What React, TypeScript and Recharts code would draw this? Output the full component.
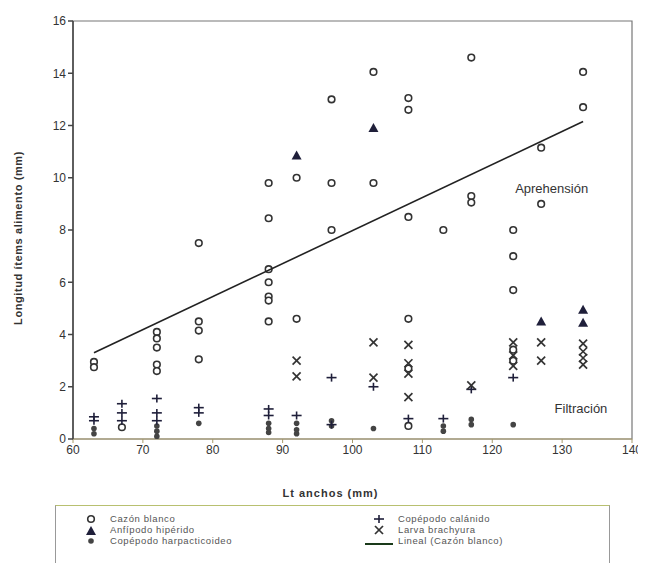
import React from 'react'
import {
  ScatterChart,
  Scatter,
  XAxis,
  YAxis,
  ReferenceArea,
  ReferenceDot,
} from 'recharts'

// Puntos (x = Lt anchos, y = longitud ítem)
const cazonBlanco = [
  { x: 63, y: 2.95 }, { x: 63, y: 2.75 },
  { x: 67, y: 0.45 },
  { x: 72, y: 4.1 }, { x: 72, y: 3.85 }, { x: 72, y: 3.5 }, { x: 72, y: 2.85 }, { x: 72, y: 2.6 },
  { x: 78, y: 7.5 }, { x: 78, y: 4.5 }, { x: 78, y: 4.15 }, { x: 78, y: 3.05 },
  { x: 88, y: 9.8 }, { x: 88, y: 8.45 }, { x: 88, y: 6.5 }, { x: 88, y: 6.0 },
  { x: 88, y: 5.45 }, { x: 88, y: 5.3 }, { x: 88, y: 4.5 },
  { x: 92, y: 10.0 }, { x: 92, y: 4.6 },
  { x: 97, y: 13.0 }, { x: 97, y: 9.8 }, { x: 97, y: 8.0 },
  { x: 103, y: 14.05 }, { x: 103, y: 9.8 },
  { x: 108, y: 13.05 }, { x: 108, y: 12.6 }, { x: 108, y: 8.5 }, { x: 108, y: 4.6 },
  { x: 108, y: 2.7 }, { x: 108, y: 0.5 },
  { x: 113, y: 8.0 },
  { x: 117, y: 14.6 }, { x: 117, y: 9.3 }, { x: 117, y: 9.05 },
  { x: 123, y: 8.0 }, { x: 123, y: 7.0 }, { x: 123, y: 5.7 }, { x: 123, y: 3.42 }, { x: 123, y: 3.0 },
  { x: 127, y: 11.15 }, { x: 127, y: 9.0 },
  { x: 133, y: 14.05 }, { x: 133, y: 12.7 },
]

const anfipodo = [
  { x: 92, y: 10.85 }, { x: 103, y: 11.9 }, { x: 127, y: 4.5 },
  { x: 133, y: 4.95 }, { x: 133, y: 4.45 },
]

const harpacticoideo = [
  { x: 63, y: 0.4 }, { x: 63, y: 0.2 },
  { x: 72, y: 0.5 }, { x: 72, y: 0.3 }, { x: 72, y: 0.1 },
  { x: 78, y: 0.6 },
  { x: 88, y: 0.6 }, { x: 88, y: 0.4 }, { x: 88, y: 0.25 },
  { x: 92, y: 0.6 }, { x: 92, y: 0.35 }, { x: 92, y: 0.2 },
  { x: 97, y: 0.7 }, { x: 97, y: 0.5 },
  { x: 103, y: 0.4 },
  { x: 113, y: 0.5 }, { x: 113, y: 0.3 },
  { x: 117, y: 0.75 }, { x: 117, y: 0.55 },
  { x: 123, y: 0.55 },
]

const calanido = [
  { x: 63, y: 0.85 }, { x: 63, y: 0.7 },
  { x: 67, y: 1.35 }, { x: 67, y: 1.0 }, { x: 67, y: 0.7 },
  { x: 72, y: 1.55 }, { x: 72, y: 1.0 }, { x: 72, y: 0.7 },
  { x: 78, y: 1.2 }, { x: 78, y: 1.0 },
  { x: 88, y: 1.15 }, { x: 88, y: 0.9 },
  { x: 92, y: 0.9 },
  { x: 97, y: 2.35 }, { x: 97, y: 0.55 },
  { x: 103, y: 2.0 },
  { x: 108, y: 0.78 },
  { x: 113, y: 0.78 },
  { x: 117, y: 1.9 },
  { x: 123, y: 2.35 },
]

const larvaBrachyura = [
  { x: 92, y: 3.0 }, { x: 92, y: 2.4 },
  { x: 103, y: 3.7 }, { x: 103, y: 2.35 },
  { x: 108, y: 3.6 }, { x: 108, y: 2.9 }, { x: 108, y: 2.5 }, { x: 108, y: 1.6 },
  { x: 117, y: 2.05 },
  { x: 123, y: 3.7 }, { x: 123, y: 3.2 }, { x: 123, y: 2.8 },
  { x: 127, y: 3.7 }, { x: 127, y: 3.0 },
  { x: 133, y: 3.65 }, { x: 133, y: 3.35 }, { x: 133, y: 3.1 }, { x: 133, y: 2.85 },
]

// recta de tendencia (Lineal Cazón blanco)
const tendencia = [
  { x: 63, y: 3.3 },
  { x: 133, y: 12.15 },
]

const xTicks = [60, 70, 80, 90, 100, 110, 120, 130, 140]
const yTicks = [0, 2, 4, 6, 8, 10, 12, 14, 16]

const INK = '#333'
const NAVY = '#1f1f3a'

const OpenCircle = ({ cx, cy }: any) => (
  <circle cx={cx} cy={cy} r={3.3} fill='#fff' stroke={INK} strokeWidth={1.6} />
)
const Triangle = ({ cx, cy }: any) => (
  <path d={`M${cx},${cy - 5}L${cx + 5},${cy + 4}L${cx - 5},${cy + 4}Z`} fill={NAVY} />
)
const Dot = ({ cx, cy }: any) => <circle cx={cx} cy={cy} r={2.8} fill='#444' />
const Plus = ({ cx, cy }: any) => (
  <g stroke={NAVY} strokeWidth={1.6}>
    <line x1={cx - 5} y1={cy} x2={cx + 5} y2={cy} />
    <line x1={cx} y1={cy - 4} x2={cx} y2={cy + 4} />
  </g>
)
const Cross = ({ cx, cy }: any) => (
  <g stroke={INK} strokeWidth={1.7}>
    <line x1={cx - 4} y1={cy - 4} x2={cx + 4} y2={cy + 4} />
    <line x1={cx - 4} y1={cy + 4} x2={cx + 4} y2={cy - 4} />
  </g>
)
const NoShape = () => <g />

const legendItems = [
  { label: 'Cazón blanco', icon: 'circle' },
  { label: 'Copépodo calánido', icon: 'plus' },
  { label: 'Anfípodo hipérido', icon: 'triangle' },
  { label: 'Larva brachyura', icon: 'cross' },
  { label: 'Copépodo harpacticoideo', icon: 'dot' },
  { label: 'Lineal (Cazón blanco)', icon: 'line' },
]

function LegendIcon({ icon }: { icon: string }) {
  return (
    <svg width={30} height={12} style={{ flex: 'none' }}>
      {icon === 'circle' && <OpenCircle cx={15} cy={6} />}
      {icon === 'triangle' && <Triangle cx={15} cy={7} />}
      {icon === 'dot' && <Dot cx={15} cy={6} />}
      {icon === 'plus' && <Plus cx={15} cy={6} />}
      {icon === 'cross' && <Cross cx={15} cy={6} />}
      {icon === 'line' && <line x1={1} y1={9} x2={29} y2={9} stroke='#1a3a1a' strokeWidth={2} />}
    </svg>
  )
}

export default function App() {
  return (
    <div style={{ position: 'relative', width: 638, height: 555, fontFamily: 'Arial, "Liberation Sans", sans-serif' }}>
      <ScatterChart width={638} height={500} margin={{ top: 13, right: 14, bottom: 0, left: 0 }}>
        <XAxis
          type='number'
          dataKey='x'
          domain={[60, 140]}
          ticks={xTicks}
          interval={0}
          allowDataOverflow
          stroke='#a89a6a'
          tickSize={4}
          tick={{ fill: INK, fontSize: 12 }}
          height={69}
          label={{
            value: 'Lt anchos (mm)',
            position: 'insideTop',
            offset: 50,
            dx: -22,
            style: { fill: INK, fontSize: 11, fontWeight: 'bold', letterSpacing: 1 },
          }}
        />
        <YAxis
          type='number'
          dataKey='y'
          domain={[0, 16]}
          ticks={yTicks}
          interval={0}
          allowDataOverflow
          stroke='#444'
          strokeWidth={1.5}
          tickSize={5}
          tick={{ fill: INK, fontSize: 12 }}
          width={65}
          label={{
            value: 'Longitud ítems alimento (mm)',
            angle: -90,
            position: 'insideLeft',
            offset: 10,
            dy: 8,
            style: { fill: INK, fontSize: 11, fontWeight: 'bold', textAnchor: 'middle', letterSpacing: 0.6 },
          }}
        />
        <ReferenceArea x1={60} x2={140} y1={0} y2={16} fill='none' stroke='#777' strokeWidth={1.2} />
        <Scatter name='Cazón blanco' data={cazonBlanco} shape={<OpenCircle />} isAnimationActive={false} />
        <Scatter name='Copépodo harpacticoideo' data={harpacticoideo} shape={<Dot />} isAnimationActive={false} />
        <Scatter name='Copépodo calánido' data={calanido} shape={<Plus />} isAnimationActive={false} />
        <Scatter name='Larva brachyura' data={larvaBrachyura} shape={<Cross />} isAnimationActive={false} />
        <Scatter name='Anfípodo hipérido' data={anfipodo} shape={<Triangle />} isAnimationActive={false} />
        <Scatter
          name='Lineal (Cazón blanco)'
          data={tendencia}
          line={{ stroke: '#222', strokeWidth: 1.6 }}
          shape={<NoShape />}
          isAnimationActive={false}
        />
        <ReferenceDot
          x={128.5}
          y={9.58}
          r={0}
          label={{ value: 'Aprehensión', position: 'center', style: { fill: INK, fontSize: 13 } }}
        />
        <ReferenceDot
          x={132.7}
          y={1.19}
          r={0}
          label={{ value: 'Filtración', position: 'center', style: { fill: INK, fontSize: 13 } }}
        />
      </ScatterChart>
      <div
        style={{
          position: 'absolute',
          left: 47,
          top: 497,
          width: 555,
          height: 62,
          border: '1px solid #999',
          borderTopColor: '#b8c070',
          boxSizing: 'border-box',
          display: 'grid',
          gridTemplateColumns: '288px 262px',
          alignContent: 'start',
          paddingTop: 7,
          fontSize: 9.5,
          letterSpacing: 0.6,
          color: '#555',
        }}
      >
        {legendItems.map((it) => (
          <div key={it.label} style={{ display: 'flex', alignItems: 'center', height: 11, paddingLeft: 20 }}>
            <LegendIcon icon={it.icon} />
            <span style={{ marginLeft: 4 }}>{it.label}</span>
          </div>
        ))}
      </div>
    </div>
  )
}
